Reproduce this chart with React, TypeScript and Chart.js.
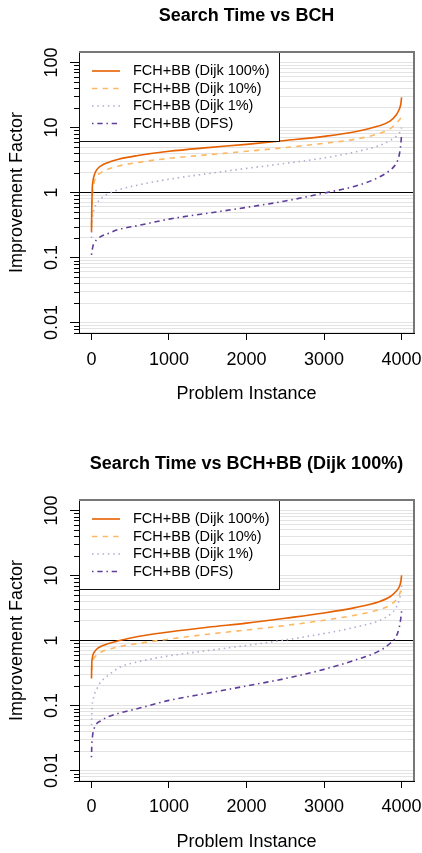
import React, { useEffect, useRef } from 'react';
import { Chart, registerables } from 'chart.js';

Chart.register(...registerables);

const FONT = "'Liberation Sans', Arial, Helvetica, sans-serif";
Chart.defaults.font.family = FONT;
Chart.defaults.color = '#000';

// ---------- data ----------
const instances = [1, 5, 10, 20, 40, 70, 120, 200, 350, 600, 1000, 1500, 2000, 2500, 3000, 3400, 3700, 3850, 3930, 3970, 3990, 4000];
const seriesNames = ['FCH+BB (Dijk 100%)', 'FCH+BB (Dijk 10%)', 'FCH+BB (Dijk 1%)', 'FCH+BB (DFS)'];

// Chart 1: Search Time vs BCH
const bchDijk100 = [0.25, 0.6, 1.1, 1.5, 1.9, 2.25, 2.55, 2.85, 3.25, 3.7, 4.3, 4.9, 5.5, 6.3, 7.3, 8.6, 10.5, 12.5, 15.5, 19, 23, 29];
const bchDijk10 = [0.3, 0.5, 0.8, 1.1, 1.5, 1.8, 2.0, 2.25, 2.55, 2.9, 3.35, 3.8, 4.3, 4.9, 5.7, 6.6, 8.0, 9.5, 11.5, 13, 14, 15];
const bchDijk1 = [0.2, 0.3, 0.38, 0.46, 0.58, 0.68, 0.8, 0.93, 1.1, 1.3, 1.6, 1.95, 2.35, 2.8, 3.4, 4.2, 5.2, 6.3, 7.3, 8.2, 9, 10];
const bchDfs = [0.11, 0.12, 0.13, 0.15, 0.17, 0.19, 0.21, 0.23, 0.27, 0.31, 0.39, 0.48, 0.59, 0.74, 0.98, 1.25, 1.7, 2.2, 2.8, 3.8, 5.5, 8];

// Chart 2: Search Time vs BCH+BB (Dijk 100%)
const bbDijk100 = [0.26, 0.45, 0.52, 0.6, 0.67, 0.74, 0.81, 0.88, 0.99, 1.15, 1.35, 1.6, 1.85, 2.2, 2.65, 3.2, 3.9, 4.7, 5.7, 6.7, 8, 10];
const bbDijk10 = [0.35, 0.42, 0.46, 0.5, 0.55, 0.6, 0.66, 0.72, 0.8, 0.9, 1.05, 1.25, 1.45, 1.7, 2.05, 2.45, 2.95, 3.5, 4.2, 5, 6, 7];
const bbDijk1 = [0.05, 0.08, 0.1, 0.12, 0.15, 0.18, 0.23, 0.28, 0.38, 0.47, 0.58, 0.7, 0.84, 1.02, 1.28, 1.6, 2.0, 2.5, 3.2, 4.2, 5.5, 7];
const bbDfs = [0.016, 0.025, 0.03, 0.038, 0.046, 0.053, 0.058, 0.066, 0.076, 0.09, 0.12, 0.155, 0.2, 0.26, 0.36, 0.5, 0.68, 0.9, 1.15, 1.6, 2.2, 2.8];

const xTickValues = [0, 1000, 2000, 3000, 4000];
const xTickLabels = ['0', '1000', '2000', '3000', '4000'];
const yTickValues = [0.01, 0.1, 1, 10, 100];
const yTickLabels = ['0.01', '0.1', '1', '10', '100'];
const minorDecades = [0.001, 0.01, 0.1, 1, 10, 100];
const minorMultipliers = [2, 3, 4, 5, 6, 7, 8, 9];

// ---------- styles ----------
const COLORS = ['#E66101', '#FDB863', '#B2ABD2', '#5E3C99'];
const DASHES: number[][] = [[], [5.3, 5.3], [1.5, 3.8], [1.5, 3.8, 5.3, 3.8]];
const Y_MIN = Math.pow(10, -2.16);
const Y_MAX = Math.pow(10, 2.16);

const minorTicks: number[] = [];
minorDecades.forEach((d) => minorMultipliers.forEach((m) => {
  const v = d * m;
  if (v >= Y_MIN && v <= Y_MAX) minorTicks.push(v);
}));
const allYTicks = [...yTickValues, ...minorTicks].sort((a, b) => a - b);

const near = (a: number, b: number) => Math.abs(Math.log10(a) - Math.log10(b)) < 1e-6;
const majorIndex = (v: number) => yTickValues.findIndex((t) => near(t, v));

const rDecor = {
  id: 'rDecor',
  beforeDatasetsDraw(chart: any) {
    const { ctx, chartArea } = chart;
    const ys = chart.scales.y;
    ctx.save();
    ctx.strokeStyle = '#000';
    ctx.lineWidth = 1;
    minorTicks.forEach((v) => {
      const py = Math.round(ys.getPixelForValue(v)) + 0.5;
      ctx.beginPath();
      ctx.moveTo(chartArea.left - 5, py);
      ctx.lineTo(chartArea.left, py);
      ctx.stroke();
    });
    ctx.restore();
  },
  afterDatasetsDraw(chart: any) {
    const { ctx, chartArea } = chart;
    const L = chartArea.left;
    const T = chartArea.top;
    ctx.save();
    // legend box
    ctx.fillStyle = '#fff';
    ctx.fillRect(L, T, 200, 89);
    ctx.strokeStyle = '#111';
    ctx.lineWidth = 1;
    ctx.strokeRect(L + 0.5, T + 0.5, 200, 89);
    chart.data.datasets.forEach((ds: any, i: number) => {
      const yy = T + 19 + 17.5 * i;
      ctx.strokeStyle = ds.borderColor;
      ctx.lineWidth = ds.borderWidth;
      ctx.lineCap = 'butt';
      ctx.setLineDash(ds.borderDash || []);
      ctx.beginPath();
      ctx.moveTo(L + 13, yy);
      ctx.lineTo(L + 41, yy);
      ctx.stroke();
      ctx.setLineDash([]);
      ctx.fillStyle = '#000';
      ctx.font = `14.5px ${FONT}`;
      ctx.textBaseline = 'middle';
      ctx.textAlign = 'left';
      ctx.fillText(ds.label, L + 54, yy);
    });
    // gray box top & right
    ctx.strokeStyle = '#777';
    ctx.lineWidth = 2;
    ctx.beginPath();
    ctx.moveTo(chartArea.left, chartArea.top);
    ctx.lineTo(chartArea.right, chartArea.top);
    ctx.lineTo(chartArea.right, chartArea.bottom);
    ctx.stroke();
    ctx.restore();
  },
};

type Spec = {
  title: string;
  series: number[][];
  titleTop: number;
  titleBottom: number;
  xAxisHeight: number;
  xTitleBottom: number;
  xTickPad: number;
};

function makeConfig(spec: Spec): any {
  return {
    type: 'line',
    data: {
      datasets: spec.series.map((vals, i) => ({
        label: seriesNames[i],
        data: instances.map((x, j) => ({ x, y: vals[j] })),
        borderColor: COLORS[i],
        borderWidth: 1.6,
        borderDash: DASHES[i],
        borderCapStyle: 'butt',
        pointRadius: 0,
        fill: false,
        cubicInterpolationMode: 'monotone',
      })),
    },
    options: {
      responsive: false,
      animation: false,
      devicePixelRatio: 1,
      events: [],
      layout: { padding: { left: 0, right: 8, top: 0, bottom: 0 } },
      plugins: {
        legend: { display: false },
        tooltip: { enabled: false },
        title: {
          display: true,
          text: spec.title,
          fullSize: false,
          color: '#000',
          font: { size: 18, weight: 'bold', family: FONT, lineHeight: 1.2 },
          padding: { top: spec.titleTop, bottom: spec.titleBottom },
        },
      },
      scales: {
        x: {
          type: 'linear',
          position: 'bottom',
          min: -160,
          max: 4160,
          afterBuildTicks: (s: any) => { s.ticks = xTickValues.map((v) => ({ value: v })); },
          afterFit: (s: any) => {
            s.height = spec.xAxisHeight;
            s.paddingLeft = 0; s.paddingRight = 0; s.paddingTop = 0; s.paddingBottom = 0;
          },
          ticks: {
            autoSkip: false,
            maxRotation: 0,
            padding: spec.xTickPad,
            color: '#000',
            font: { size: 18, family: FONT },
            callback: (v: number) => { const k = xTickValues.indexOf(v); return k >= 0 ? xTickLabels[k] : ''; },
          },
          grid: { drawOnChartArea: false, drawTicks: true, tickLength: 7, tickColor: '#000', tickWidth: 1 },
          border: { display: true, color: '#000', width: 1 },
          title: {
            display: true,
            text: 'Problem Instance',
            color: '#000',
            font: { size: 18, family: FONT, lineHeight: 1.2 },
            padding: { top: 0, bottom: spec.xTitleBottom },
          },
        },
        y: {
          type: 'logarithmic',
          position: 'left',
          min: Y_MIN,
          max: Y_MAX,
          afterBuildTicks: (s: any) => { s.ticks = allYTicks.map((v) => ({ value: v })); },
          afterFit: (s: any) => {
            s.width = 79;
            s.paddingLeft = 0; s.paddingRight = 0; s.paddingTop = 0; s.paddingBottom = 0;
          },
          ticks: {
            autoSkip: false,
            minRotation: 90,
            maxRotation: 90,
            crossAlign: 'center',
            padding: 0,
            color: '#000',
            font: { size: 18, family: FONT },
            callback: (v: number) => { const k = majorIndex(v); return k >= 0 ? yTickLabels[k] : ''; },
          },
          grid: {
            drawOnChartArea: true,
            drawTicks: true,
            tickLength: 9,
            lineWidth: 1,
            color: (c: any) => (c.tick && near(c.tick.value, 1) ? '#000' : '#e3e3e3'),
            tickColor: (c: any) => (c.tick && majorIndex(c.tick.value) >= 0 ? '#000' : 'rgba(0,0,0,0)'),
            tickWidth: 1,
          },
          border: { display: true, color: '#000', width: 1 },
          title: {
            display: true,
            text: 'Improvement Factor',
            color: '#000',
            font: { size: 18, family: FONT, lineHeight: 1.2 },
            padding: { top: 6, bottom: 0 },
          },
        },
      },
    },
    plugins: [rDecor],
  };
}

export default function App() {
  const ref1 = useRef<HTMLCanvasElement>(null);
  const ref2 = useRef<HTMLCanvasElement>(null);
  useEffect(() => {
    const c1 = new Chart(ref1.current as HTMLCanvasElement, makeConfig({
      title: 'Search Time vs BCH',
      series: [bchDijk100, bchDijk10, bchDijk1, bchDfs],
      titleTop: 5.2,
      titleBottom: 25.2,
      xAxisHeight: 93,
      xTitleBottom: 21,
      xTickPad: 9,
    }));
    const c2 = new Chart(ref2.current as HTMLCanvasElement, makeConfig({
      title: 'Search Time vs BCH+BB (Dijk 100%)',
      series: [bbDijk100, bbDijk10, bbDijk1, bbDfs],
      titleTop: 27.2,
      titleBottom: 25.2,
      xAxisHeight: 72,
      xTitleBottom: 0,
      xTickPad: 8,
    }));
    return () => { c1.destroy(); c2.destroy(); };
  }, []);
  return (
    <div style={{ position: 'absolute', left: 0, top: 0, width: 422, height: 853, background: '#fff' }}>
      <canvas ref={ref1} width={422} height={426} style={{ position: 'absolute', left: 0, top: 0, width: 422, height: 426 }} />
      <canvas ref={ref2} width={422} height={427} style={{ position: 'absolute', left: 0, top: 426, width: 422, height: 427 }} />
    </div>
  );
}
